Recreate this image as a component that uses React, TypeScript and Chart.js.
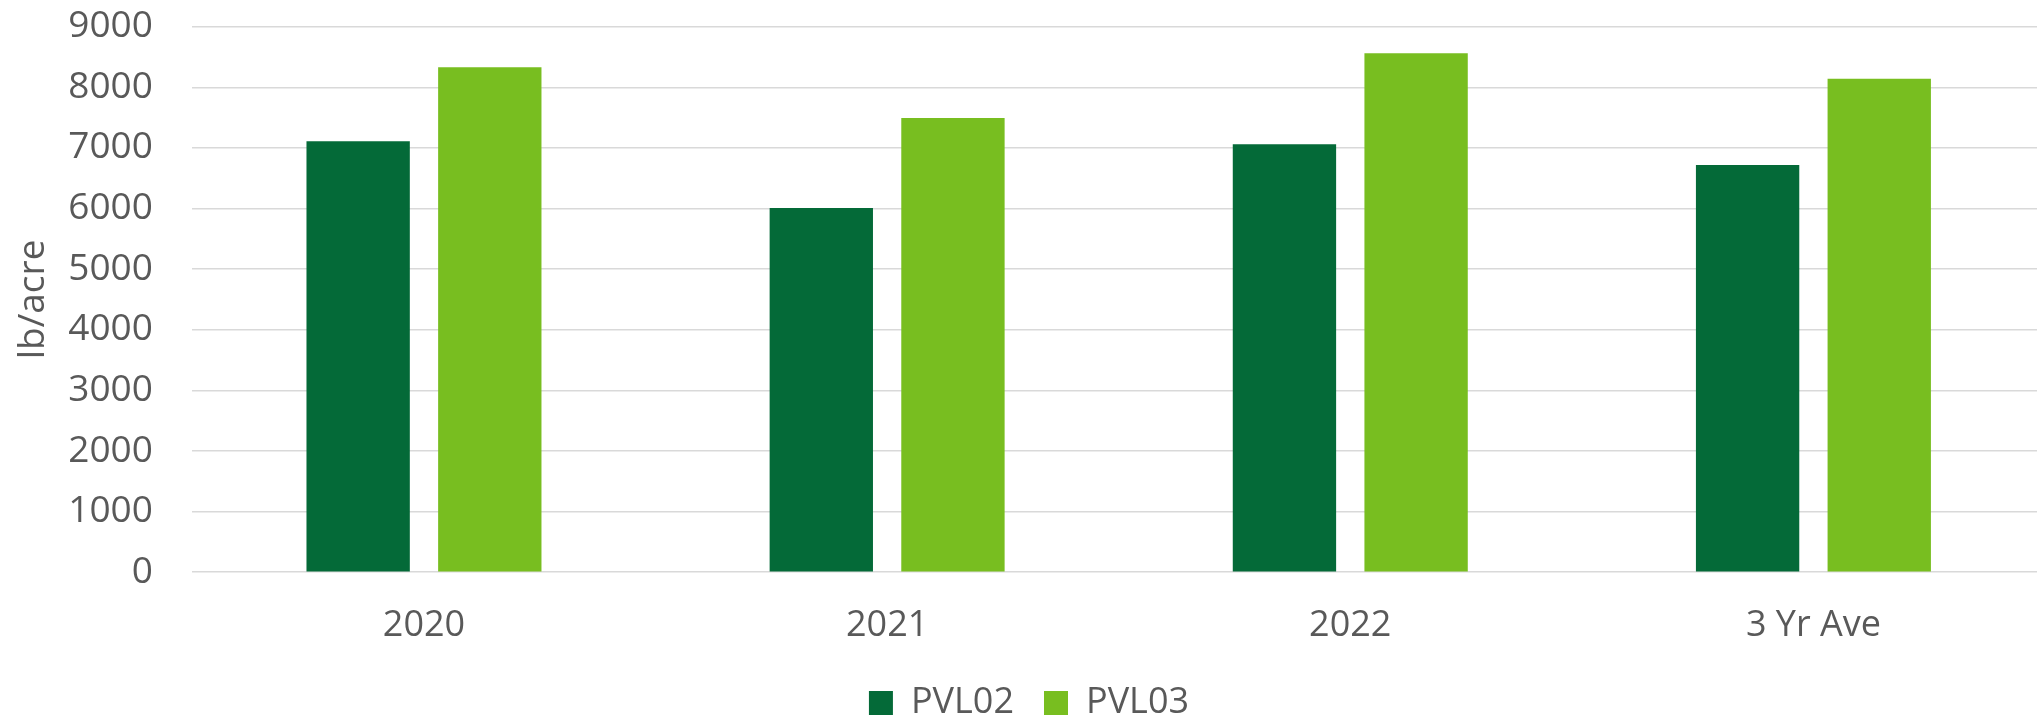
import React, { useEffect, useRef } from "react";
import { Chart, registerables } from "chart.js";

Chart.register(...registerables);

const categories = ["2020", "2021", "2022", "3 Yr Ave"];
const seriesNames = ["PVL02", "PVL03"];
const pvl02 = [7110, 6010, 7060, 6720];
const pvl03 = [8330, 7495, 8560, 8140];
const yMin = 0;
const yMax = 9000;
const yStep = 1000;
const yTitle = "lb/acre";

const DARK = "#046A38";
const LIGHT = "#78BE20";
const TEXT = "#595959";
const GRID = "#D9D9D9";
const FONT = "'Open Sans', 'Noto Sans', sans-serif";

export default function App() {
  const ref = useRef<HTMLCanvasElement>(null);

  useEffect(() => {
    const canvas = ref.current;
    if (!canvas) return;
    const chart = new Chart(canvas, {
      type: "bar",
      data: {
        labels: categories,
        datasets: [
          {
            label: seriesNames[0],
            data: pvl02,
            backgroundColor: DARK,
            borderWidth: 0,
            categoryPercentage: 0.5685,
            barPercentage: 0.785,
          },
          {
            label: seriesNames[1],
            data: pvl03,
            backgroundColor: LIGHT,
            borderWidth: 0,
            categoryPercentage: 0.5685,
            barPercentage: 0.785,
          },
        ],
      },
      options: {
        responsive: false,
        animation: false,
        devicePixelRatio: 1,
        layout: { padding: { left: 13, top: 26.7, right: 0, bottom: 0 } },
        plugins: {
          tooltip: { enabled: false },
          legend: {
            position: "bottom",
            maxHeight: 65,
            labels: {
              boxWidth: 24,
              boxHeight: 24,
              padding: 30,
              color: TEXT,
              font: { family: FONT, size: 36 },
            },
          },
        },
        scales: {
          x: {
            grid: { display: false, drawTicks: false },
            border: { display: false },
            ticks: {
              color: TEXT,
              padding: 32.4,
              font: { family: FONT, size: 36 },
            },
            afterFit: (scale: any) => {
              scale.height = 82.8;
            },
          },
          y: {
            min: yMin,
            max: yMax,
            grid: {
              color: GRID,
              lineWidth: 1.5,
              drawTicks: true,
              tickLength: 39.5,
              tickColor: "rgba(0,0,0,0)",
            },
            border: { display: false },
            ticks: {
              stepSize: yStep,
              color: TEXT,
              padding: 0,
              font: { family: FONT, size: 37 },
              callback: (v: any) => String(v),
            },
            title: {
              display: true,
              text: yTitle,
              color: TEXT,
              padding: { top: 0, bottom: 0 },
              font: { family: FONT, size: 37, lineHeight: 1.1 },
            },
            afterFit: (scale: any) => {
              scale.width = 179.4;
            },
          },
        },
      },
    });
    return () => chart.destroy();
  }, []);

  return (
    <div
      style={{
        position: "absolute",
        left: 0,
        top: 0,
        width: 2037,
        height: 720,
        overflow: "hidden",
        background: "#ffffff",
      }}
    >
      <canvas
        ref={ref}
        width={2045}
        height={720}
        style={{ display: "block", width: 2045, height: 720 }}
      />
    </div>
  );
}
